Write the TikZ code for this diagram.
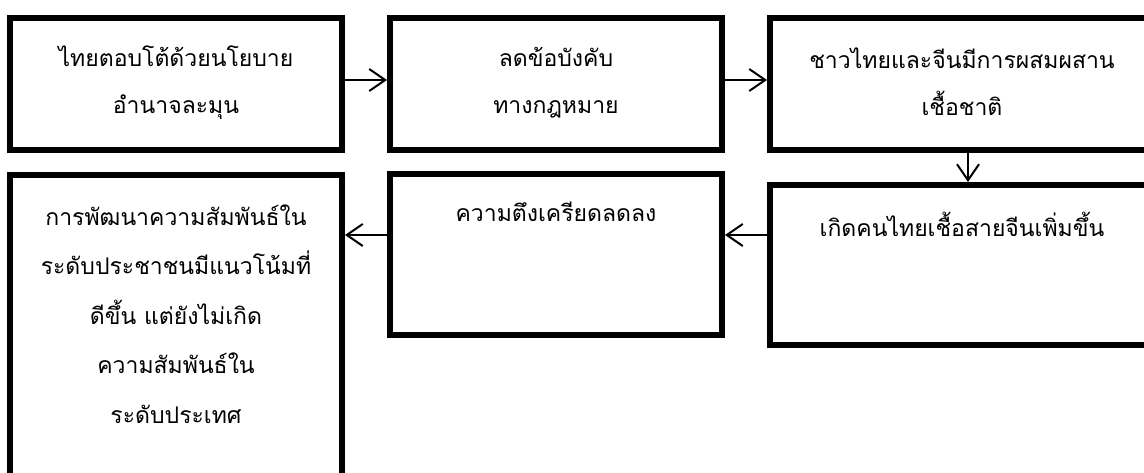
\documentclass[tikz,border=0pt]{standalone}
\usepackage{fontspec}
\newfontfamily\thaifont[Script=Thai]{Loma}
\usetikzlibrary{arrows.meta}
\begin{document}
\begin{tikzpicture}[x=1pt,y=-1pt,
  box/.style={draw,line width=6pt,inner sep=0pt},
  lbl/.style={font=\thaifont\fontsize{23}{47}\selectfont,align=center,inner sep=0pt},
  conn/.style={line width=2pt,-{Straight Barb[length=16pt,width=22pt,line width=2pt]}}]
\useasboundingbox (0,0) rectangle (1144,472);
\clip (0,0) rectangle (1144,472);
\fill[white] (0,0) rectangle (1144,472);
\node[box,minimum width=332pt,minimum height=132pt] (b1) at (176,84) {};
\node[box,minimum width=332pt,minimum height=132pt] (b2) at (556,84) {};
\node[box,minimum width=384pt,minimum height=132pt] (b3) at (962,84) {};
\node[box,minimum width=384pt,minimum height=160pt] (b4) at (962,265) {};
\node[box,minimum width=332pt,minimum height=161pt] (b5) at (556,254.5) {};
\node[box,minimum width=332pt,minimum height=345pt] (b6) at (176,347.5) {};
\node[lbl] (t1) at (176,83) {ไทยตอบโต้ด้วยนโยบาย\\อำนาจละมุน};
\node[lbl] (t2) at (556,83) {ลดข้อบังคับ\\ทางกฎหมาย};
\node[lbl] (t3) at (962,82) {ชาวไทยและจีนมีการผสมผสาน\\เชื้อชาติ};
\node[lbl] (t4) at (962,224) {เกิดคนไทยเชื้อสายจีนเพิ่มขึ้น};
\node[lbl] (t5) at (556,212) {ความตึงเครียดลดลง};
\node[lbl,font=\thaifont\fontsize{23}{49.5}\selectfont] (t6) at (176,314) {การพัฒนาความสัมพันธ์ใน\\ระดับประชาชนมีแนวโน้มที่\\ดีขึ้น แต่ยังไม่เกิด\\ความสัมพันธ์ใน\\ระดับประเทศ};
\coordinate (r1) at (0,235);
\draw[conn] ([yshift=4pt]b1.east) -- ([yshift=4pt]b2.west);
\draw[conn] ([yshift=4pt]b2.east) -- ([yshift=4pt]b3.west);
\draw[conn] ([xshift=6pt]b3.south) -- ([xshift=6pt]b4.north);
\draw[conn] (b4.west |- r1) -- (b5.east |- r1);
\draw[conn] (b5.west |- r1) -- (b6.east |- r1);
\end{tikzpicture}
\end{document}
